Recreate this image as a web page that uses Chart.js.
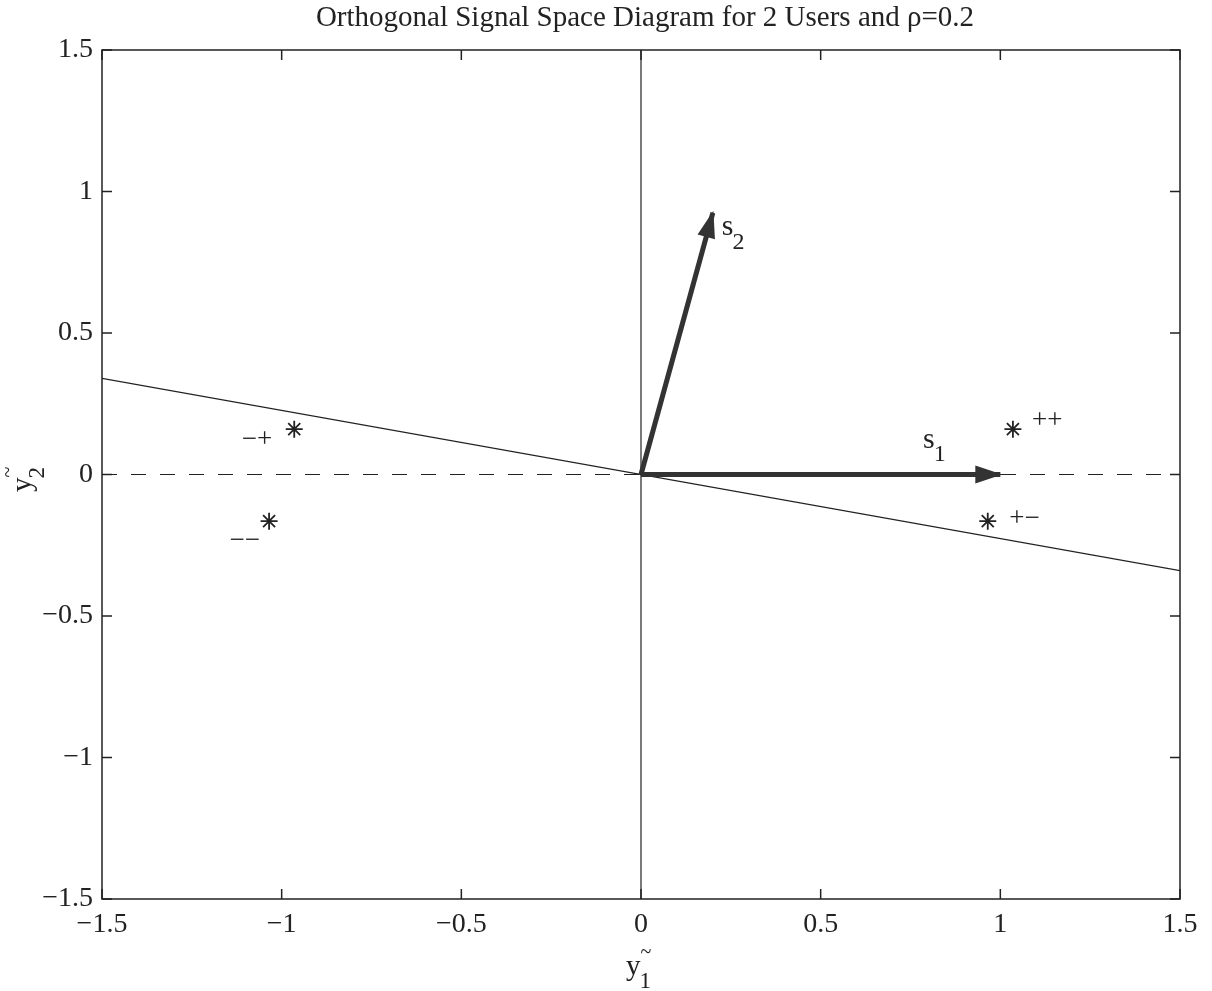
<!DOCTYPE html>
<html>
<head>
<meta charset="utf-8">
<script src="https://cdn.jsdelivr.net/npm/chart.js@4/dist/chart.umd.min.js"></script>
<style>
html, body { margin: 0; padding: 0; background: #fff; }
#wrap { width: 1212px; height: 991px; position: relative; }
</style>
</head>
<body>
<div id="wrap"><canvas id="c"></canvas></div>
<script>
// values
const tickValues = [-1.5, -1, -0.5, 0, 0.5, 1, 1.5];
const starX = [1.035, 0.965, -0.965, -1.035];
const starY = [0.16, -0.165, 0.16, -0.165];
const starNames = ['++', '+−', '−+', '−−'];
const nameX = [1.088, 1.025, -1.111, -1.145];
const nameY = [0.164, -0.182, 0.097, -0.26];
const vecX = [1, 0.2];
const vecY = [0, 0.925];
const vecSubs = ['1', '2'];
const vecLabelX = [0.785, 0.225];
const vecLabelY = [0.094, 0.846];
const boundaryX = [-1.5, 1.5];
const boundaryY = [0.34, -0.34];

const SERIF = 'Liberation Serif';
const INK = '#222';

function subText(ctx, x, y, main, sub, tilde, size) {
  ctx.font = size + 'px ' + SERIF;
  ctx.fillText(main, x, y);
  const w = ctx.measureText(main).width;
  ctx.font = Math.round(size * 0.8) + 'px ' + SERIF;
  ctx.fillText(sub, x + w - 1, y + size * 0.45);
  if (tilde) {
    ctx.font = Math.round(size * 0.7) + 'px ' + SERIF;
    ctx.fillText('~', x + w, y - size * 0.6);
  }
}

const decor = {
  id: 'decor',
  afterDatasetsDraw(chart) {
    const { ctx, chartArea: a, scales: { x, y } } = chart;
    ctx.save();
    // arrow heads
    chart.data.datasets.forEach((ds, i) => {
      if (!ds.arrow) return;
      const pts = chart.getDatasetMeta(i).data;
      const p0 = pts[0], p1 = pts[pts.length - 1];
      const ang = Math.atan2(p1.y - p0.y, p1.x - p0.x);
      ctx.save();
      ctx.translate(p1.x, p1.y);
      ctx.rotate(ang);
      ctx.beginPath();
      ctx.moveTo(2, 0);
      ctx.lineTo(-25, -9);
      ctx.lineTo(-25, 9);
      ctx.closePath();
      ctx.fillStyle = ds.borderColor;
      ctx.fill();
      ctx.restore();
    });
    // box and inward ticks
    ctx.strokeStyle = INK;
    ctx.lineWidth = 1.5;
    ctx.strokeRect(a.left, a.top, a.right - a.left, a.bottom - a.top);
    ctx.beginPath();
    tickValues.forEach(v => {
      const px = x.getPixelForValue(v), py = y.getPixelForValue(v);
      ctx.moveTo(px, a.bottom); ctx.lineTo(px, a.bottom - 10);
      ctx.moveTo(px, a.top); ctx.lineTo(px, a.top + 10);
      ctx.moveTo(a.left, py); ctx.lineTo(a.left + 10, py);
      ctx.moveTo(a.right, py); ctx.lineTo(a.right - 10, py);
    });
    ctx.stroke();

    ctx.fillStyle = INK;
    ctx.textBaseline = 'alphabetic';
    ctx.textAlign = 'left';
    // point names
    ctx.font = '27px ' + SERIF;
    starNames.forEach((t, i) => {
      ctx.fillText(t, x.getPixelForValue(nameX[i]), y.getPixelForValue(nameY[i]));
    });
    // vector names
    vecSubs.forEach((s, i) => {
      subText(ctx, x.getPixelForValue(vecLabelX[i]), y.getPixelForValue(vecLabelY[i]), 's', s, false, 30);
    });
    // title
    ctx.textAlign = 'center';
    ctx.font = '29px ' + SERIF;
    ctx.fillText('Orthogonal Signal Space Diagram for 2 Users and ρ=0.2', (a.left + a.right) / 2 + 4, 26);
    ctx.textAlign = 'left';
    // axis titles
    subText(ctx, (a.left + a.right) / 2 - 15, 975, 'y', '1', true, 29);
    ctx.save();
    ctx.translate(31, 492);
    ctx.rotate(-Math.PI / 2);
    subText(ctx, 0, 0, 'y', '2', true, 29);
    ctx.restore();
    ctx.restore();
  }
};

const fmt = v => v === 0 ? '0' : (v < 0 ? '−' : '') + Math.abs(v);

new Chart(document.getElementById('c'), {
  type: 'scatter',
  data: {
    datasets: [
      {
        arrow: true,
        data: [{ x: 0, y: 0 }, { x: vecX[0], y: vecY[0] }],
        showLine: true, borderColor: '#333', borderWidth: 5, pointRadius: 0
      },
      {
        arrow: true,
        data: [{ x: 0, y: 0 }, { x: vecX[1], y: vecY[1] }],
        showLine: true, borderColor: '#333', borderWidth: 5, pointRadius: 0
      },
      {
        data: starX.map((v, i) => ({ x: v, y: starY[i] })),
        showLine: false, pointStyle: 'star', pointRadius: 8.5,
        borderColor: INK, backgroundColor: INK, borderWidth: 1.8
      },
      {
        data: [{ x: 0, y: tickValues[0] }, { x: 0, y: tickValues[6] }],
        showLine: true, borderColor: INK, borderWidth: 1.2, pointRadius: 0
      },
      {
        data: boundaryX.map((v, i) => ({ x: v, y: boundaryY[i] })),
        showLine: true, borderColor: INK, borderWidth: 1.2, pointRadius: 0
      },
      {
        data: [{ x: tickValues[0], y: 0 }, { x: tickValues[6], y: 0 }],
        showLine: true, borderColor: INK, borderWidth: 1.2, borderDash: [15, 14], pointRadius: 0
      }
    ]
  },
  options: {
    responsive: true,
    maintainAspectRatio: false,
    animation: false,
    events: [],
    layout: { padding: { top: 50, right: 32, left: 0, bottom: 0 } },
    plugins: { legend: { display: false }, tooltip: { enabled: false } },
    scales: {
      x: {
        type: 'linear', min: -1.5, max: 1.5,
        afterFit: s => { s.height = 92; },
        grid: { display: false, drawTicks: false },
        border: { display: false },
        ticks: {
          stepSize: 0.5, padding: 9, color: INK, callback: fmt,
          maxRotation: 0, font: { family: SERIF, size: 28 }
        }
      },
      y: {
        type: 'linear', min: -1.5, max: 1.5,
        afterFit: s => { s.width = 102; },
        grid: { display: false, drawTicks: false },
        border: { display: false },
        ticks: {
          stepSize: 0.5, padding: 9, color: INK, callback: fmt,
          font: { family: SERIF, size: 28 }
        }
      }
    }
  },
  plugins: [decor]
});
</script>
</body>
</html>
